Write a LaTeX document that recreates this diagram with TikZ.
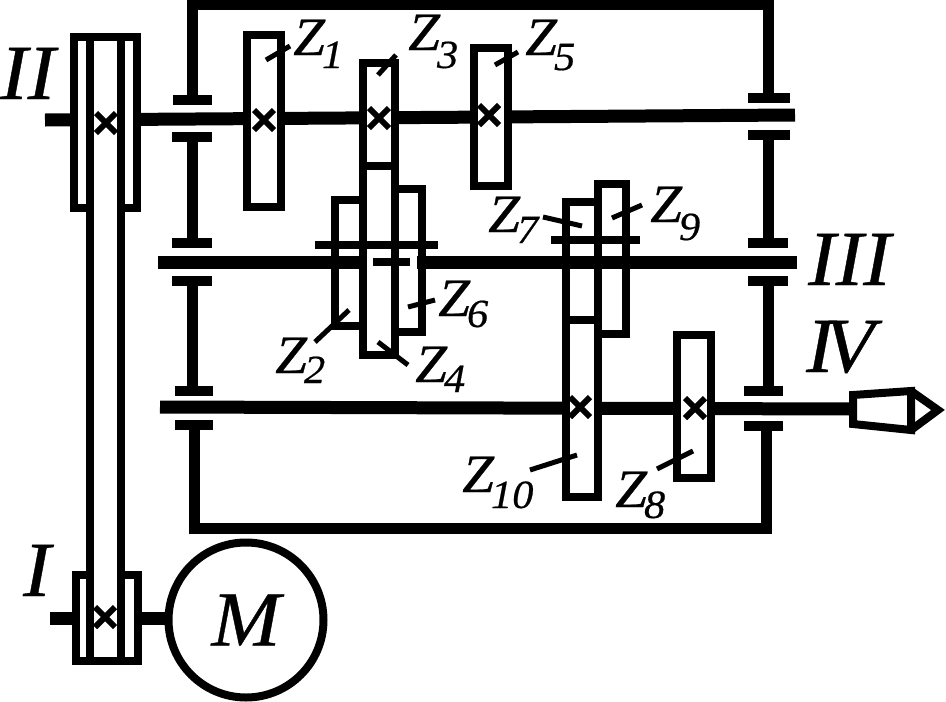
\documentclass[tikz,border=0pt]{standalone}
\usepackage{fontspec}
\setmainfont[ItalicFeatures={FakeStretch=1.06,FakeBold=0.5}]{Liberation Serif}
\newcommand{\zlabel}[2]{\itshape\fontsize{54}{54}\selectfont Z\kern-3pt\raisebox{-#2pt}{\fontsize{40}{40}\selectfont #1}}
\newcommand{\romanlabel}[1]{\itshape\fontsize{78}{78}\selectfont #1}
\tikzset{
 shaft/.style={line width=13pt},
 housing/.style={line width=11pt},
 bearing/.style={line width=10pt},
 gear/.style={line width=8pt,fill=white},
 wheel/.style={line width=8pt},
 leader/.style={line width=5pt},
 crossmark/.style={line width=6pt},
 gearname/.style={anchor=base west,inner sep=0pt},
}
\begin{document}
\begin{tikzpicture}[x=1pt,y=-1pt]
\useasboundingbox (0,0) rectangle (946,702);
% shafts
\draw[shaft] (45,120) -- (795,115);
\draw[shaft] (158,262) -- (363,262);
\draw[shaft] (417,262) -- (797,262);
\draw[shaft] (160,407) -- (851,409);
% housing
\draw[housing] (192,100) -- (192,4) -- (768,4) -- (768,98);
\draw[housing] (194,425) -- (194,528) -- (766,528) -- (766,426);
\foreach \x/\ya/\yb in {192/137/243,192/281/391,768/135/243,768/281/391}
 \draw[housing] (\x,\ya) -- (\x,\yb);
% bearings
\foreach \xa/\xb/\y in {173/212/100,172/212/137,172/212/243,172/212/281,175/213/391,175/213/425,
 748/790/98,748/790/135,748/788/243,748/788/281,744/783/391,744/783/426}
 \draw[bearing] (\xa,\y) -- (\xb,\y);
% belt drive
\draw[gear] (74,37) rectangle (137,208);
\draw[gear] (76,575) rectangle (138,661);
\draw[gear] (90,37) rectangle (121,661);
\node[draw,circle,line width=8pt,minimum size=155pt,inner sep=0pt] (motor) at (246,620) {\romanlabel{M}};
\coordinate (motorin) at (142,618);
\draw[shaft] (50,618) -- (72,618);
\draw[shaft] (motorin) -- (motorin -| motor.west);
% gears on the upper shaft
\draw[gear] (247,35) rectangle (281,207);
\draw[gear] (363,63) rectangle (395,166);
\draw[gear] (474,48) rectangle (508,186);
% gears on the middle shaft
\draw[gear] (363,166) rectangle (395,355);
\draw[wheel] (363,200) -- (335,200) -- (335,326) -- (363,326);
\draw[wheel] (395,189) -- (422,189) -- (422,332) -- (395,332);
\draw[wheel] (315,245) -- (438,245);
\draw[wheel] (373,262) -- (410,262);
\draw[wheel] (566,320) -- (566,202) -- (598,202);
\draw[wheel] (598,184) rectangle (626,334);
\draw[wheel] (551,240) -- (640,240);
% gears on the lower shaft
\draw[gear] (566,320) rectangle (598,497);
\draw[gear] (677,335) rectangle (711,478);
% output end
\draw[wheel] (853,395) -- (911,391) -- (911,430) -- (853,424) -- cycle;
\draw[wheel] (911,391) -- (938,410) -- (911,430);
% crosses
\foreach \x/\y in {106/123,105/617,264/120,379/118,489/115,580/407,695/408}
 \draw[crossmark] (\x-10,\y-10) -- (\x+10,\y+10) (\x-10,\y+10) -- (\x+10,\y-10);
% leaders
\foreach \xa/\ya/\xb/\yb in {266/60/290/46,378/75/396/55,495/65/518/52,543/217/582/226,612/218/642/205,
 408/307/435/300,315/342/349/310,378/342/408/365,530/470/577/455,657/469/693/451}
 \draw[leader] (\xa,\ya) -- (\xb,\yb);
% names
\node[gearname] (z1) at (293,55) {\zlabel{1}{13}};
\node[gearname] (z3) at (408,50) {\zlabel{3}{18}};
\node[gearname] (z5) at (525,55) {\zlabel{5}{15}};
\node[gearname] (z7) at (488,232) {\zlabel{7}{11}};
\node[gearname] (z9) at (650,222) {\zlabel{9}{18}};
\node[gearname] (z6) at (438,316) {\zlabel{6}{11}};
\node[gearname] (z2) at (275,373) {\zlabel{2}{10}};
\node[gearname] (z4) at (415,382) {\zlabel{4}{10}};
\node[gearname] (z10) at (462,492) {\zlabel{10}{16}};
\node[gearname] (z8) at (615,507) {\zlabel{8}{11}};
\node[gearname] (shaftII) at (0,99) {\romanlabel{II}};
\node[gearname] (shaftIII) at (808,285) {\romanlabel{III}};
\node[gearname] (shaftIV) at (806,372) {\romanlabel{I\kern-10pt V}};
\node[gearname] (shaftI) at (23,596) {\romanlabel{I}};
\end{tikzpicture}
\end{document}
